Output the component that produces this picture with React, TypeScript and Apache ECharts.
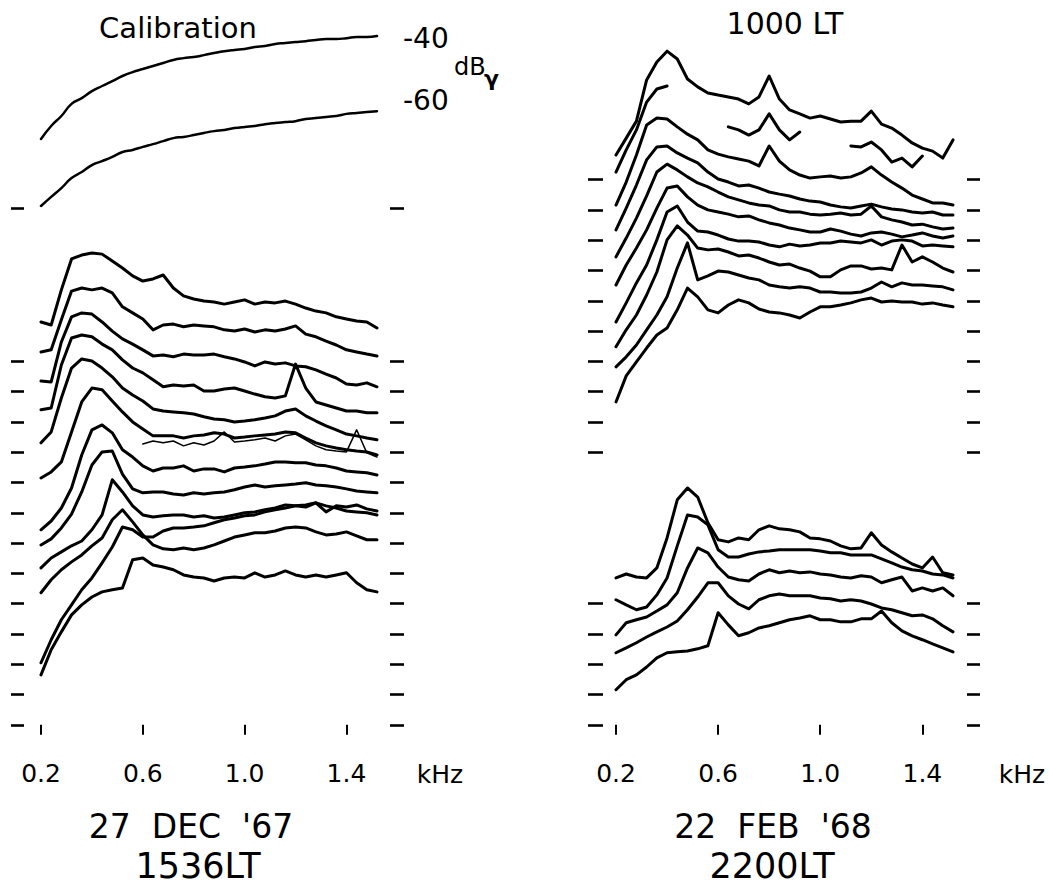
import { useEffect, useRef } from "react";
import * as echarts from "echarts";

// Frequency grid (kHz) shared by all traces
const freqKHz = [0.2, 0.24, 0.28, 0.32, 0.36, 0.4, 0.44, 0.48, 0.52, 0.56, 0.6, 0.64, 0.68, 0.72, 0.76, 0.8, 0.84, 0.88, 0.92, 0.96, 1.0, 1.04, 1.08, 1.12, 1.16, 1.2, 1.24, 1.28, 1.32, 1.36, 1.4, 1.44, 1.48, 1.52];
const xTickValues = [0.2, 0.6, 1.0, 1.4];

// Vertical reference dashes (dB levels)
const leftPanelDashes = [0, 10, 20, 30, 40, 50, 60, 70, 80, 90, 100, 110, 120, 170.5];
const rightPanelDashes = [0, 10, 20, 30, 40, 90, 100, 110, 120, 130, 140, 150, 160, 170, 180];

// ---- 27 DEC '67, 1536 LT (left panel) ----
const calib40 = [193.4, 197.7, 201.0, 205.0, 206.9, 209.2, 210.9, 212.5, 214.2, 215.5, 216.5, 217.5, 218.5, 219.5, 220.1, 220.5, 221.1, 221.8, 222.4, 222.8, 223.1, 223.8, 224.1, 224.8, 225.1, 225.4, 225.7, 226.1, 226.4, 226.4, 226.7, 227.1, 227.1, 227.4];
const calib60 = [171.3, 174.3, 177.2, 180.5, 182.5, 184.8, 186.1, 187.5, 189.1, 189.8, 190.8, 191.7, 192.7, 193.7, 194.1, 194.7, 195.4, 196.0, 196.4, 197.0, 197.4, 197.7, 198.3, 198.7, 199.0, 199.3, 200.0, 200.3, 200.7, 201.0, 201.7, 202.0, 202.3, 202.6];
const dec1 = [133.0, 132.0, 143.6, 153.8, 155.1, 155.8, 155.4, 153.1, 150.8, 148.2, 146.5, 147.2, 148.5, 144.2, 141.6, 140.6, 139.9, 139.6, 138.9, 139.6, 140.3, 138.9, 139.6, 139.3, 139.9, 138.9, 137.6, 136.6, 136.0, 134.7, 134.0, 133.3, 133.0, 131.0];
const dec2 = [123.1, 123.8, 133.7, 143.2, 144.2, 143.6, 144.2, 142.6, 138.0, 136.0, 134.0, 130.4, 132.0, 132.3, 131.4, 132.0, 131.7, 131.4, 130.4, 130.0, 130.7, 129.7, 130.4, 130.0, 130.7, 131.7, 129.0, 128.1, 126.7, 125.4, 123.8, 123.1, 122.4, 121.8];
const dec3 = [113.5, 113.2, 126.4, 134.7, 136.0, 135.6, 133.0, 130.0, 127.4, 125.7, 123.8, 121.8, 122.1, 121.5, 122.4, 122.1, 122.1, 122.4, 121.5, 120.8, 119.8, 118.5, 119.8, 119.1, 119.5, 118.5, 118.2, 117.2, 115.8, 114.5, 112.5, 112.2, 112.9, 111.6];
const dec4 = [104.0, 104.6, 118.8, 127.7, 128.7, 128.1, 125.7, 123.8, 120.5, 117.8, 116.2, 113.9, 111.6, 112.2, 111.9, 112.2, 110.2, 110.2, 110.9, 111.2, 110.2, 109.2, 108.3, 107.9, 108.6, 119.1, 111.2, 106.6, 105.6, 104.6, 103.6, 103.6, 103.0, 103.0];
const dec5 = [93.1, 96.7, 107.9, 117.8, 120.8, 120.1, 117.8, 114.9, 111.2, 108.9, 106.9, 104.3, 103.6, 103.3, 103.0, 102.6, 101.7, 101.0, 100.7, 100.0, 100.3, 100.7, 101.3, 102.0, 103.6, 104.3, 102.0, 100.3, 98.7, 97.4, 96.0, 95.4, 94.7, 94.1];
const dec6 = [81.5, 83.5, 86.8, 96.7, 106.6, 111.2, 110.6, 106.9, 103.3, 100.0, 97.7, 95.4, 95.4, 95.4, 94.7, 95.4, 95.7, 96.4, 96.0, 94.7, 95.0, 95.4, 95.7, 96.0, 96.7, 96.4, 94.7, 93.1, 92.1, 91.4, 90.8, 90.4, 90.1, 89.1];
const decThin = [null, null, null, null, null, null, null, null, null, null, 92.7, 93.7, 93.1, 93.7, 92.1, 93.1, 92.4, 93.7, 96.7, 93.4, 93.7, 94.1, 94.7, 93.7, 95.4, 96.0, 94.1, 92.1, 90.8, 90.4, 90.1, 97.4, 89.8, 88.4];
const dec7 = [64.4, 67.3, 71.6, 78.2, 89.1, 97.4, 99.0, 96.4, 90.8, 88.4, 85.5, 83.8, 84.8, 84.8, 85.5, 83.8, 84.5, 84.5, 83.5, 84.8, 85.1, 85.5, 86.1, 86.8, 86.8, 86.5, 86.5, 85.8, 85.5, 84.8, 83.8, 83.5, 83.2, 82.5];
const dec8 = [59.4, 61.4, 65.0, 69.6, 76.9, 85.8, 90.1, 90.4, 82.8, 77.9, 76.6, 76.9, 76.9, 76.2, 75.9, 76.6, 76.2, 76.6, 76.9, 77.6, 78.5, 79.2, 78.5, 78.9, 79.2, 79.5, 79.9, 79.2, 78.9, 78.5, 77.9, 77.2, 76.9, 76.6];
const dec9 = [51.8, 55.1, 57.1, 59.1, 60.7, 64.4, 69.3, 80.9, 76.9, 72.3, 69.3, 68.6, 69.0, 69.3, 69.3, 68.6, 69.0, 68.3, 68.6, 69.3, 70.0, 70.3, 71.0, 71.6, 72.6, 72.3, 71.9, 73.3, 72.3, 71.6, 70.6, 70.3, 70.0, 69.3];
const dec10 = [43.6, 47.9, 51.2, 53.8, 56.1, 59.1, 61.7, 67.7, 71.0, 67.0, 62.7, 59.4, 58.1, 57.8, 58.4, 57.8, 58.4, 59.4, 60.7, 62.0, 62.7, 63.4, 63.4, 64.0, 65.0, 65.3, 65.0, 63.7, 62.7, 63.0, 63.7, 62.4, 61.1, 61.1];
const dec11 = [20.5, 28.1, 34.7, 39.6, 44.6, 48.5, 53.5, 58.7, 65.3, 64.4, 62.0, 62.0, 64.0, 65.0, 65.0, 65.3, 65.7, 66.7, 67.7, 68.3, 69.0, 69.3, 70.3, 71.0, 71.6, 72.3, 72.6, 73.3, 70.3, 72.3, 71.9, 72.6, 71.3, 70.6];
const dec12 = [16.5, 24.8, 30.7, 36.3, 39.6, 42.2, 43.9, 44.6, 45.2, 54.5, 55.1, 52.8, 52.1, 51.2, 49.5, 48.8, 48.5, 47.5, 48.5, 48.8, 48.5, 50.2, 48.8, 49.5, 50.8, 49.5, 48.8, 49.5, 48.8, 49.5, 50.2, 46.9, 44.6, 43.9];

// ---- 22 FEB '68, 1000 LT (right panel, upper group) ----
const feb1 = [188.1, 193.7, 199.3, 212.9, 218.8, 222.4, 219.8, 213.2, 210.6, 208.6, 207.9, 207.3, 206.6, 205.0, 207.3, 214.2, 206.6, 203.0, 201.7, 200.3, 201.0, 200.0, 199.0, 199.3, 199.3, 202.6, 198.3, 197.0, 194.7, 192.1, 190.4, 189.4, 187.1, 193.1];
const feb2 = [182.5, 189.8, 196.4, 205.6, 209.9, 210.9, null, null, null, null, null, 197.4, 196.4, 194.7, 196.4, 201.7, 196.4, 193.1, 195.7, null, null, null, null, 191.1, 190.8, 192.4, 189.8, 185.8, 187.1, 184.2, 187.8, null, null, null];
const feb3 = [171.6, 179.2, 188.1, 198.0, 200.3, 200.0, 197.4, 195.0, 193.1, 189.8, 188.4, 187.5, 186.8, 186.1, 184.5, 191.1, 186.1, 183.2, 181.5, 180.5, 180.9, 181.2, 180.5, 180.9, 182.2, 184.2, 181.5, 179.2, 177.2, 174.9, 173.6, 172.3, 172.3, 171.6];
const feb4 = [163.4, 170.6, 178.2, 186.5, 190.8, 191.1, 188.8, 187.1, 185.5, 182.5, 180.2, 179.2, 177.9, 178.2, 177.2, 175.9, 175.2, 174.6, 173.6, 172.9, 172.6, 171.6, 171.0, 170.6, 171.3, 171.9, 171.0, 170.3, 170.0, 169.3, 169.0, 169.3, 168.3, 168.3];
const feb5 = [154.5, 160.7, 167.3, 174.6, 182.5, 185.1, 183.2, 180.9, 178.9, 177.6, 175.9, 174.3, 173.3, 172.3, 171.6, 171.3, 170.0, 169.3, 169.3, 168.6, 168.3, 168.6, 169.0, 168.3, 168.6, 171.3, 167.7, 166.7, 166.0, 165.0, 165.3, 164.4, 163.7, 164.0];
const feb6 = [145.2, 151.8, 157.4, 163.4, 170.6, 177.2, 177.9, 174.3, 171.6, 170.0, 169.3, 168.6, 167.7, 168.0, 166.7, 165.7, 165.0, 164.0, 163.4, 162.7, 162.7, 163.7, 163.0, 162.0, 161.4, 162.4, 162.7, 162.0, 161.1, 161.7, 162.4, 161.4, 160.7, 161.4];
const feb7 = [133.0, 139.3, 145.9, 151.8, 160.1, 169.3, 171.3, 166.0, 163.0, 162.7, 161.7, 160.4, 159.7, 159.7, 159.4, 158.4, 157.8, 158.7, 158.1, 158.4, 159.1, 159.1, 159.7, 159.4, 159.1, 160.1, 158.4, 159.7, 160.1, 159.7, 158.1, 158.4, 158.1, 157.8];
const feb8 = [124.8, 130.4, 135.3, 141.9, 149.5, 160.1, 164.7, 161.7, 157.4, 156.8, 157.1, 156.1, 154.8, 155.1, 154.1, 152.8, 151.8, 152.1, 150.8, 149.8, 147.9, 147.9, 150.2, 151.5, 151.5, 150.5, 150.8, 150.2, 158.4, 152.8, 154.5, 152.8, 150.8, 149.5];
const feb9 = [118.2, 121.5, 125.4, 130.4, 135.3, 141.3, 150.8, 159.1, 146.9, 148.2, 149.8, 149.5, 148.5, 147.5, 146.9, 145.2, 144.6, 144.2, 144.6, 144.2, 142.9, 142.9, 142.6, 142.6, 142.9, 144.2, 146.2, 144.6, 145.9, 145.2, 145.2, 144.9, 144.6, 143.6];
const feb10 = [106.6, 115.2, 119.8, 124.4, 128.7, 131.0, 137.0, 144.2, 141.3, 137.0, 136.0, 138.6, 140.3, 139.3, 137.3, 136.3, 136.0, 135.3, 134.3, 136.3, 138.0, 138.0, 138.6, 139.3, 140.3, 140.9, 139.6, 139.9, 139.6, 139.6, 138.9, 139.3, 138.6, 138.0];

// ---- 22 FEB '68, 2200 LT (right panel, lower group) ----
const night1 = [48.5, 49.8, 48.8, 48.5, 51.8, 61.7, 74.3, 78.2, 75.2, 66.7, 61.1, 60.4, 61.7, 61.1, 64.4, 65.7, 64.7, 64.4, 63.7, 61.7, 61.4, 60.7, 59.1, 58.1, 58.4, 63.4, 59.4, 57.1, 55.1, 53.1, 51.8, 55.4, 50.2, 49.5];
const night2 = [41.3, 39.6, 38.0, 38.9, 42.9, 48.5, 59.1, 69.3, 68.6, 66.0, 57.8, 55.4, 55.4, 56.4, 57.1, 57.4, 57.8, 57.8, 57.8, 57.8, 57.4, 56.8, 56.8, 56.1, 56.1, 56.1, 54.8, 53.5, 52.1, 51.2, 50.8, 49.8, 49.5, 48.5];
const night3 = [29.7, 33.7, 34.7, 35.6, 37.6, 39.6, 43.6, 51.8, 58.4, 56.8, 52.1, 48.8, 47.9, 47.5, 49.8, 51.2, 50.2, 50.8, 50.2, 50.5, 49.8, 49.5, 48.8, 48.5, 49.2, 48.8, 46.9, 47.9, 48.8, 44.2, 45.2, 44.2, 45.2, 42.6];
const night4 = [23.8, 25.4, 27.1, 29.0, 30.7, 32.3, 34.3, 38.0, 42.2, 46.9, 46.9, 42.6, 39.9, 38.3, 41.3, 42.6, 43.2, 42.6, 42.6, 42.6, 41.9, 41.6, 40.9, 41.3, 40.9, 39.9, 38.6, 38.0, 37.0, 36.0, 36.3, 35.0, 32.7, 30.7];
const night5 = [11.6, 14.9, 16.5, 19.1, 22.1, 23.8, 24.1, 24.4, 25.1, 26.1, 37.0, 33.0, 29.4, 30.4, 32.0, 32.7, 33.7, 34.7, 35.3, 36.0, 34.7, 34.7, 34.0, 34.0, 35.0, 35.0, 37.6, 33.7, 31.0, 29.4, 28.1, 26.7, 25.4, 24.1];

const FONT = "'DejaVu Sans', 'Liberation Sans', Arial, sans-serif";

export default function App() {
  const ref = useRef<HTMLDivElement>(null);

  useEffect(() => {
    if (!ref.current) return;
    const chart = echarts.init(ref.current, null, { renderer: "svg" });

    const pairs = (vals: (number | null)[]) => freqKHz.map((f, i) => [f, vals[i]]);
    const trace = (name: string, vals: (number | null)[], grid: number, width = 3, smooth = false) => ({
      type: "line",
      name,
      data: pairs(vals),
      xAxisIndex: grid,
      yAxisIndex: grid * 2,
      symbol: "none",
      showSymbol: false,
      smooth,
      connectNulls: false,
      silent: true,
      lineStyle: { color: "#000", width, cap: "round", join: "round" },
    });

    const xAxisBase = (gridIndex: number) => ({
      gridIndex,
      type: "value",
      min: 0.2,
      max: 1.52,
      axisLine: { show: false },
      splitLine: { show: false },
      axisTick: { show: true, customValues: xTickValues, length: 10, lineStyle: { color: "#000", width: 2 } },
      axisLabel: {
        show: true,
        customValues: xTickValues,
        formatter: (v: number) => v.toFixed(1),
        margin: 21,
        color: "#000",
        fontSize: 25,
        fontFamily: FONT,
      },
    });

    const yAxisBase = (gridIndex: number, position: string, offset: number, length: number, ticks: number[]) => ({
      gridIndex,
      type: "value",
      position,
      offset,
      min: -5,
      max: 235,
      axisLine: { show: false },
      splitLine: { show: false },
      axisLabel: { show: false, customValues: ticks },
      axisTick: { show: true, customValues: ticks, length, inside: false, lineStyle: { color: "#000", width: 2.6 } },
    });

    const txt = (text: string, x: number, y: number, fontSize: number, align = "center", extra: any = {}) => ({
      type: "text",
      x,
      y,
      silent: true,
      style: {
        text,
        fill: "#000",
        fontSize,
        fontFamily: FONT,
        textAlign: align,
        textVerticalAlign: "middle",
        ...extra,
      },
    });

    chart.setOption({
      animation: false,
      backgroundColor: "#fff",
      grid: [
        { left: 41, top: 13, width: 336, height: 727, containLabel: false, outerBoundsMode: "none" },
        { left: 616, top: 13, width: 337, height: 727, containLabel: false, outerBoundsMode: "none" },
      ],
      xAxis: [xAxisBase(0), xAxisBase(1)],
      yAxis: [
        yAxisBase(0, "left", 17, 13, leftPanelDashes),
        yAxisBase(0, "right", 13, 14, leftPanelDashes),
        yAxisBase(1, "left", 13, 15, rightPanelDashes),
        yAxisBase(1, "right", 14, 13, rightPanelDashes),
      ],
      series: [
        trace("Calibration -40", calib40, 0, 2.5, true),
        trace("Calibration -60", calib60, 0, 2.5, true),
        trace("1536 LT 1", dec1, 0),
        trace("1536 LT 2", dec2, 0),
        trace("1536 LT 3", dec3, 0),
        trace("1536 LT 4", dec4, 0),
        trace("1536 LT 5", dec5, 0),
        trace("1536 LT 6", dec6, 0),
        trace("1536 LT thin", decThin, 0, 1.5),
        trace("1536 LT 7", dec7, 0),
        trace("1536 LT 8", dec8, 0),
        trace("1536 LT 9", dec9, 0),
        trace("1536 LT 10", dec10, 0),
        trace("1536 LT 11", dec11, 0),
        trace("1536 LT 12", dec12, 0),
        trace("1000 LT 1", feb1, 1),
        trace("1000 LT 2", feb2, 1),
        trace("1000 LT 3", feb3, 1),
        trace("1000 LT 4", feb4, 1),
        trace("1000 LT 5", feb5, 1),
        trace("1000 LT 6", feb6, 1),
        trace("1000 LT 7", feb7, 1),
        trace("1000 LT 8", feb8, 1),
        trace("1000 LT 9", feb9, 1),
        trace("1000 LT 10", feb10, 1),
        trace("2200 LT 1", night1, 1),
        trace("2200 LT 2", night2, 1),
        trace("2200 LT 3", night3, 1),
        trace("2200 LT 4", night4, 1),
        trace("2200 LT 5", night5, 1),
      ],
      graphic: [
        txt("Calibration", 178, 28, 29),
        txt("-40", 403, 38, 28, "left"),
        txt("-60", 403, 100, 28, "left"),
        txt("dB", 454, 67, 24, "left"),
        txt("γ", 484, 78, 22, "left", { fontWeight: "bold" }),
        txt("1000 LT", 785, 23, 30),
        txt("kHz", 440, 774, 25),
        txt("kHz", 1022, 774, 25),
        txt("27  DEC  '67", 191, 826, 33),
        txt("1536LT", 198, 866, 35),
        txt("22  FEB  '68", 773, 826, 33),
        txt("2200LT", 772, 866, 35),
      ],
    });

    return () => chart.dispose();
  }, []);

  return (
    <div
      ref={ref}
      style={{ position: "absolute", left: 0, top: 0, width: 1049, height: 885, background: "#fff" }}
    />
  );
}
